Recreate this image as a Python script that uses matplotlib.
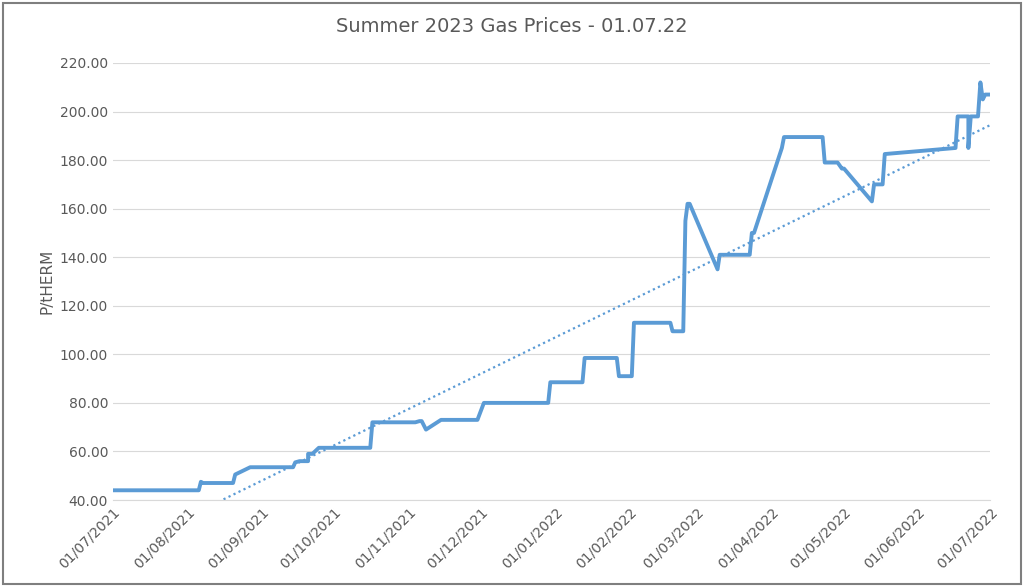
import numpy as np
import pandas as pd
import matplotlib.pyplot as plt
import matplotlib.dates as mdates
from matplotlib.patches import Rectangle

# price path (dates, P/therm)
dates = ["2021-07-01", "2021-08-10", "2021-08-11", "2021-08-12", "2021-08-26", "2021-08-27",
         "2021-09-03", "2021-09-23", "2021-09-24", "2021-09-26", "2021-09-30", "2021-09-30",
         "2021-10-02", "2021-10-05", "2021-10-29", "2021-10-30", "2021-11-19", "2021-11-21",
         "2021-11-22", "2021-11-24", "2021-12-01", "2021-12-01", "2021-12-18", "2021-12-21",
         "2022-01-20", "2022-01-21", "2022-02-05", "2022-02-06", "2022-02-21", "2022-02-22",
         "2022-02-24", "2022-02-28", "2022-03-01", "2022-03-18", "2022-03-19", "2022-03-20",
         "2022-03-24", "2022-03-25", "2022-03-26", "2022-03-27", "2022-04-09", "2022-04-10",
         "2022-04-24", "2022-04-25", "2022-04-26", "2022-05-09", "2022-05-10", "2022-05-28",
         "2022-05-29", "2022-06-04", "2022-06-06", "2022-06-07", "2022-06-20", "2022-06-21",
         "2022-06-25", "2022-06-26", "2022-07-29", "2022-07-30", "2022-08-04"]
prices = [44, 44, 47.5, 47, 47, 50.5, 53.5, 53.5, 55.5, 56, 56, 59,
          59, 61.5, 61.5, 72, 72, 72.5, 72.5, 69, 73, 73, 73, 80,
          80, 88.5, 88.5, 98.5, 98.5, 91, 91, 91, 113, 113, 109.5, 109.5,
          109.5, 155, 162, 162, 135, 141, 141, 150, 150, 185, 189.5, 189.5,
          179, 179, 176.5, 176.5, 163, 170, 170, 182.5, 185, 198, 198]
dates = dates[:len(prices)]

# finer tail: last days of June 2022
tail_dates = ["2022-06-22", "2022-06-23", "2022-06-26", "2022-06-27", "2022-06-28", "2022-06-29", "2022-07-01"]
tail_prices = [185, 198, 198, 212, 205, 207, 207]

x = pd.to_datetime(dates)
# rescale the hand-read sequence onto the real time span
x0, x1 = pd.Timestamp("2021-07-01"), pd.Timestamp("2022-06-22")
xs = x0 + (x - x[0]) / (x[-1] - x[0]) * (x1 - x0)
xs = list(xs) + list(pd.to_datetime(tail_dates))
ys = prices + tail_prices

fig = plt.figure(figsize=(10.24, 5.87), dpi=100)
ax = fig.add_axes([113/1024, 1 - 500/587, (990-113)/1024, (500-63)/587])
ax.plot(xs, ys, color="#5b9bd5", lw=2.8, solid_joinstyle="round")

# linear trend of daily series
daily = pd.Series(ys, index=xs).groupby(level=0).last().resample("D").ffill()
t = (daily.index - daily.index[0]).days.values
k, b = np.polyfit(t, daily.values, 1)
tt = np.arange(0, t[-1] + 1)
yy = k * tt + b
m = yy >= 40
ax.plot(daily.index[0] + pd.to_timedelta(tt[m], "D"), yy[m], ls=(0, (1, 1.5)), color="#5b9bd5", lw=1.6)

ax.set_ylim(40, 220)
ax.set_yticks(np.arange(40, 221, 20))
ax.set_yticklabels([f"{v:.2f}" for v in np.arange(40, 221, 20)], color="#595959", fontsize=10)
ax.set_xlim(pd.Timestamp("2021-07-01"), pd.Timestamp("2022-07-01"))
ax.xaxis.set_major_locator(mdates.MonthLocator())
ax.xaxis.set_major_formatter(mdates.DateFormatter("%d/%m/%Y"))
plt.setp(ax.get_xticklabels(), rotation=45, ha="right", rotation_mode="anchor", color="#595959", fontsize=10)
ax.tick_params(length=0)
ax.grid(axis="y", color="#d9d9d9", lw=0.8)
for s in ["top", "right", "left"]:
    ax.spines[s].set_visible(False)
ax.spines["bottom"].set_color("#d9d9d9")
ax.set_ylabel("P/tHERM", color="#595959", fontsize=11)
fig.text(0.5, 0.955, "Summer 2023 Gas Prices - 01.07.22", ha="center", va="center", fontsize=14, color="#595959")
fig.patches.append(Rectangle((0.003, 0.005), 0.994, 0.99, transform=fig.transFigure, fill=False, ec="#7f7f7f", lw=1.5))
fig.savefig("out.png", dpi=100)
